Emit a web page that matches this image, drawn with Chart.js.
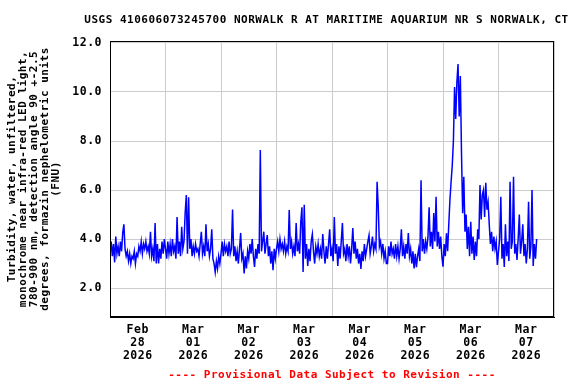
<!DOCTYPE html>
<html>
<head>
<meta charset="utf-8">
<script src="https://cdn.jsdelivr.net/npm/chart.js@4/dist/chart.umd.min.js"></script>
<style>
html,body{margin:0;padding:0;background:#fff;}
#wrap{width:576px;height:384px;}
</style>
</head>
<body>
<div id="wrap"><canvas id="c" width="576" height="384"></canvas></div>
<script>
// ---- Data (30-minute readings, FNU), starting Feb 28 2026 00:00 ----
const stepHours = 0.5;
const feb28 = [3.5,3.9,3.3,3.8,3.05,4.1,3.4,3.7,3.3,3.9,3.5,4.25,
               4.6,3.6,3.3,3.5,3.1,3.4,3.0,3.3,3.2,3.5,3.0,3.4,
               3.3,3.7,3.5,3.9,3.4,3.8,3.6,3.9,3.5,3.7,3.4,4.3,
               3.3,3.6,3.1,4.65,3.0,3.8,3.0,3.6,3.2,3.9,3.4,4.0];
const mar01 = [3.6,3.2,3.9,3.4,3.8,3.3,4.0,3.5,3.7,3.2,4.9,3.4,
               3.9,3.3,4.5,3.6,3.9,5.06,5.8,3.4,5.7,3.6,4.0,3.3,
               3.7,3.4,3.8,3.5,3.6,3.3,3.8,4.3,3.4,3.7,3.3,4.6,
               3.5,3.8,3.3,3.6,4.4,3.2,3.0,2.65,3.1,2.8,3.3,3.0];
const mar02 = [3.4,3.9,3.3,3.8,3.5,3.7,3.3,3.9,3.4,3.6,5.2,3.3,
               3.7,3.1,3.5,3.0,3.6,4.25,3.2,3.4,2.6,3.3,2.8,3.5,
               3.2,3.8,3.4,4.0,3.3,2.86,3.6,3.2,3.8,3.4,7.63,3.5,
               3.9,4.3,3.4,3.8,4.16,3.3,3.7,3.0,3.5,2.73,3.6,3.2];
const mar03 = [3.6,3.9,3.5,4.0,3.6,3.8,3.5,3.9,3.4,3.7,3.5,5.18,
               3.6,3.9,3.4,3.7,3.3,4.65,3.5,3.8,3.4,4.7,5.3,2.66,
               5.4,3.2,3.8,2.9,3.6,3.1,3.9,4.2,3.5,3.0,3.7,3.4,
               3.8,3.3,3.6,3.2,4.2,3.5,3.0,3.7,3.2,3.8,4.4,3.3];
const mar04 = [3.6,3.1,4.9,3.4,3.8,2.9,3.7,3.2,3.9,4.65,3.4,3.6,
               3.1,3.8,3.3,3.7,3.0,3.6,4.45,3.4,3.9,3.2,3.6,3.0,
               3.4,2.78,3.5,3.1,3.8,3.3,3.6,3.9,4.15,3.4,3.7,4.1,
               3.5,3.8,3.6,6.34,5.32,3.7,3.9,3.4,3.8,3.2,3.5,3.0];
const mar05 = [3.0,3.7,3.3,3.9,3.4,3.6,3.2,3.8,3.3,3.7,3.2,3.6,
               4.4,3.3,3.7,3.2,3.8,3.4,4.25,3.3,3.6,3.0,3.5,2.8,
               3.4,2.85,3.3,3.6,3.1,6.4,3.5,4.0,3.4,3.9,3.6,4.1,
               5.3,3.7,4.3,3.6,5.06,3.9,5.73,3.7,4.3,3.6,4.1,3.3];
const mar06 = [2.87,3.8,3.3,4.24,3.5,4.6,5.6,6.34,7.0,8.0,10.2,8.9,
               10.4,11.14,9.0,10.65,7.5,5.05,6.54,4.3,5.0,3.6,4.5,3.3,
               4.7,3.4,4.1,3.15,3.9,3.3,4.4,4.0,6.2,4.8,5.8,6.0,
               4.9,6.3,5.2,5.5,4.6,3.8,4.3,3.5,4.1,3.6,3.9,2.94];
const mar07 = [3.5,4.0,5.73,3.2,3.8,2.86,4.6,3.3,3.9,3.1,6.34,3.6,
               3.9,6.54,3.4,3.8,3.15,4.0,5.0,3.4,3.9,4.6,3.3,3.8,
               3.0,3.6,5.52,3.2,3.7,6.0,2.9,3.8,3.2,4.0];

// ---- Tick labels (one per day, placed at noon) ----
const tickMonths = ["Feb","Mar","Mar","Mar","Mar","Mar","Mar","Mar"];
const tickDays   = ["28","01","02","03","04","05","06","07"];
const tickYears  = ["2026","2026","2026","2026","2026","2026","2026","2026"];
const yTicks = [2, 4, 6, 8, 10, 12];

const titleText = "USGS 410606073245700 NORWALK R AT MARITIME AQUARIUM NR S NORWALK, CT";
const yTitle = ["Turbidity, water, unfiltered,",
                "monochrome near infra-red LED light,",
                "780-900 nm, detection angle 90 +-2.5",
                "degrees, formazin nephelometric units",
                "(FNU)"];
const xTitle = "---- Provisional Data Subject to Revision ----";

const allValues = [].concat(feb28, mar01, mar02, mar03, mar04, mar05, mar06, mar07);
const points = allValues.map((v, i) => ({x: i * stepHours, y: v}));

const MONO = "'DejaVu Sans Mono', 'Liberation Mono', monospace";
const SPACING = '0.5px';

const framePlugin = {
  id: 'frame',
  beforeInit(chart) { chart.ctx.letterSpacing = SPACING; },
  beforeUpdate(chart) { chart.ctx.letterSpacing = SPACING; },
  beforeDraw(chart) { chart.ctx.letterSpacing = SPACING; },
  afterDatasetsDraw(chart) {
    const a = chart.chartArea, ctx = chart.ctx;
    ctx.save();
    ctx.strokeStyle = '#000';
    ctx.lineWidth = 1;
    ctx.strokeRect(a.left + 0.5, a.top + 0.5, a.right - a.left - 1, a.bottom - a.top - 1);
    ctx.restore();
  },
  afterDraw(chart) {
    const ctx = chart.ctx;
    ctx.save();
    ctx.letterSpacing = SPACING;
    ctx.fillStyle = '#000';
    ctx.font = "bold 11px " + MONO;
    ctx.textAlign = 'center';
    ctx.textBaseline = 'middle';
    ctx.fillText(titleText, 326.5, 20);
    ctx.restore();
  }
};

new Chart(document.getElementById('c'), {
  type: 'line',
  data: {
    datasets: [{
      data: points,
      borderColor: '#0000ff',
      borderWidth: 1.5,
      pointRadius: 0,
      tension: 0,
      fill: false
    }]
  },
  options: {
    responsive: false,
    animation: false,
    events: [],
    layout: {padding: {top: 41, right: 22, left: 0, bottom: 0}},
    plugins: {legend: {display: false}, tooltip: {enabled: false}, title: {display: false}},
    scales: {
      x: {
        type: 'linear',
        min: 0,
        max: 192,
        afterBuildTicks(scale) {
          const t = [];
          for (let h = 0; h <= 192; h += 12) t.push({value: h});
          scale.ticks = t;
        },
        afterFit(scale) { scale.height = 67; },
        grid: {
          drawTicks: false,
          color: (ctx) => (ctx.tick && ctx.tick.value % 24 === 0) ? '#cccccc' : 'rgba(0,0,0,0)',
          lineWidth: 1
        },
        border: {display: true, color: '#000', width: 1},
        ticks: {
          autoSkip: false,
          maxRotation: 0,
          padding: 7,
          color: '#000',
          font: {family: MONO, size: 11.5, weight: 'bold', lineHeight: 1.1},
          callback: (v) => {
            if (v % 24 !== 12) return '';
            const d = Math.floor(v / 24);
            return [tickMonths[d], tickDays[d], tickYears[d]];
          }
        },
        title: {
          display: true,
          text: xTitle,
          color: '#ff0000',
          font: {family: MONO, size: 11, weight: 'bold', lineHeight: 1},
          padding: {top: 2, bottom: 3}
        }
      },
      y: {
        min: 0.82,
        max: 12.08,
        afterBuildTicks(scale) { scale.ticks = yTicks.map(v => ({value: v})); },
        afterFit(scale) { scale.width = 110; },
        grid: {drawTicks: false, color: '#cccccc', lineWidth: 1},
        border: {display: true, color: '#000', width: 1},
        ticks: {
          padding: 8,
          color: '#000',
          font: {family: MONO, size: 11.5, weight: 'bold'},
          callback: (v) => Number(v).toFixed(1)
        },
        title: {
          display: true,
          text: yTitle,
          color: '#000',
          font: {family: MONO, size: 11, weight: 'bold', lineHeight: 1},
          padding: {top: 7, bottom: 4}
        }
      }
    }
  },
  plugins: [framePlugin]
});
</script>
</body>
</html>
